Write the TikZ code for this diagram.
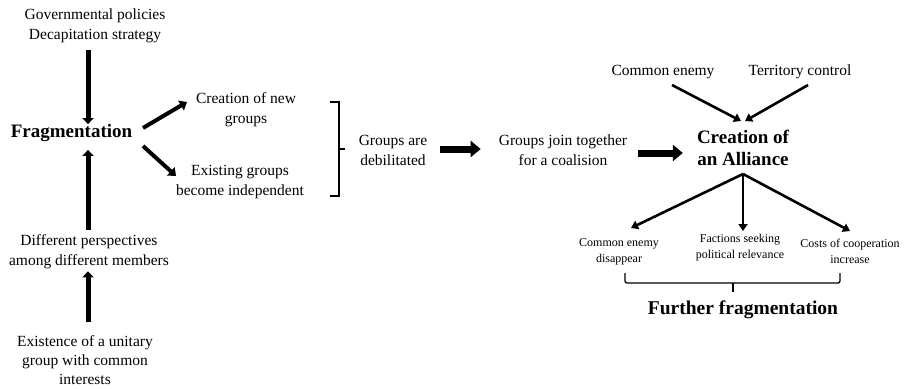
\documentclass[tikz,border=0pt]{standalone}
\usepackage{fontspec}
\setmainfont{Liberation Serif}
\usetikzlibrary{arrows.meta}
\begin{document}
\begin{tikzpicture}[x=1pt,y=-1pt,
  txt/.style={align=center,inner sep=0pt,font=\fontsize{15.5}{20}\selectfont},
  small/.style={align=center,inner sep=0pt,font=\fontsize{12}{16}\selectfont},
  big/.style={align=center,inner sep=0pt,font=\fontsize{19}{22}\selectfont\bfseries},
  vstem/.style={line width=5pt,-{Triangle[length=6pt,width=11pt]}},
  dstem/.style={line width=4pt,-{Triangle[length=7pt,width=11pt]}},
  fat/.style={line width=7pt,-{Triangle[length=10pt,width=16pt]}},
  thin/.style={line width=2.6pt,-{Triangle[length=7pt,width=9pt]}},
  brk/.style={line width=1.3pt}]
\useasboundingbox (0,0) rectangle (907,388);

% left column
\coordinate (axis) at (88,0);
\node[txt] (gov) at (95,26) {Governmental policies\\Decapitation strategy};
\node[big] (frag) at (71.5,133) {Fragmentation};
\node[txt] (diff) at (89,252) {Different perspectives\\among different members};
\node[txt,font=\fontsize{15.5}{19}\selectfont] (exist) at (85,360) {Existence of a unitary\\group with common\\interests};

\draw[vstem] ([yshift=-7]gov.south -| axis) -- (frag.north -| axis);
\draw[vstem] ([yshift=5]diff.north -| axis) -- ([yshift=-8]frag.south -| axis);
\draw[vstem] ([yshift=13]exist.north -| axis) -- ([yshift=-2]diff.south -| axis);

% outcomes of fragmentation
\node[txt] (newg) at (246,110) {Creation of new\\groups};
\node[txt] (indep) at (240,182) {Existing groups\\become independent};
\coordinate (f1) at (143,128);
\coordinate (n1) at (187,102);
\coordinate (f2) at (143,146);
\coordinate (n2) at (176,176);
\draw[dstem] (f1) -- (n1);
\draw[dstem] (f2) -- (n2);

% grouping bracket
\coordinate (bt) at (330,102);
\coordinate (bb) at (330,196);
\coordinate (bm) at (345,149);
\draw[brk] (bt) -- (339,102) -- (339,196) -- (bb);
\draw[brk] (339,149) -- (bm);

\node[txt] (debil) at (393,150) {Groups are\\debilitated};
\node[txt] (coal) at (563,150) {Groups join together\\for a coalision};
\node[big] (alli) at (743,148) {Creation of\\an Alliance};

\draw[fat] ([xshift=13]debil.east |- 0,149) -- ([xshift=-18]coal.west |- 0,149);
\draw[fat] ([xshift=11]coal.east |- 0,153) -- ([xshift=-14]alli.west |- 0,153);

% causes of the alliance
\node[txt] (enemy) at (663,72) {Common enemy};
\node[txt] (terr) at (800,72) {Territory control};
\coordinate (a1) at (741,121);
\coordinate (a2) at (745,121);
\draw[thin] (672,85) -- (a1);
\draw[thin] (808,85) -- (a2);

% consequences
\coordinate (ab) at (743,174);
\node[small] (ce) at (619,252) {Common enemy\\disappear};
\node[small] (fs) at (740,248) {Factions seeking\\political relevance};
\node[small] (cc) at (850,251) {Costs of cooperation\\increase};
\draw[thin] (ab) -- (631,228);
\draw[thin] (ab) -- (743,231);
\draw[thin] (ab) -- (850,231);

% lower brace
\draw[brk,rounded corners=2pt] (625,273) -- (625,283) -- (840,283) -- (840,273);
\draw[brk] (733,283) -- (733,292);
\node[big,font=\fontsize{19.5}{22}\selectfont\bfseries] (further) at (743,310) {Further fragmentation};
\end{tikzpicture}
\end{document}
